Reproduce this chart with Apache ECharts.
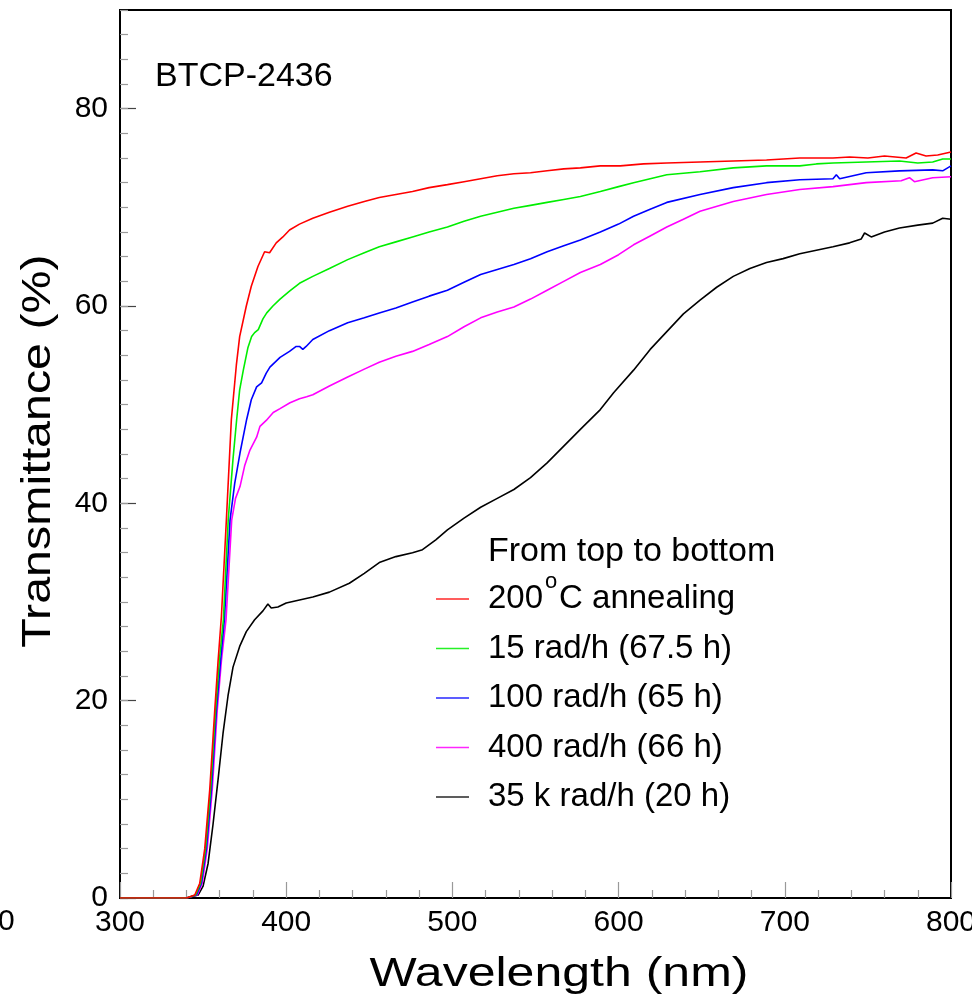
<!DOCTYPE html>
<html>
<head>
<meta charset="utf-8">
<script src="https://cdn.jsdelivr.net/npm/echarts@6/dist/echarts.min.js"></script>
<style>
html,body{margin:0;padding:0;background:#fff;}
#chart{width:972px;height:1008px;}
</style>
</head>
<body>
<div id="chart"></div>
<script>
// ---- data (wavelength nm, transmittance %) ----
var seriesNames = ['200°C annealing', '15 rad/h (67.5 h)', '100 rad/h (65 h)', '400 rad/h (66 h)', '35 k rad/h (20 h)'];
var seriesColors = ['#ff0000', '#00ee00', '#0000ff', '#ff00ff', '#000000'];
var xTickLabels = ['300', '400', '500', '600', '700', '800'];
var yTickLabels = ['0', '20', '40', '60', '80'];

var wlRed = [300,320,340,345,348,351,354,357,359,361,364,367,370,372,376,379,383,387,390,394,398,402,408,416,426,437,447,456,466,476,486,497,507,517,527,537,547,557,567,577,589,601,615,629,649,669,689,709,729,739,750,760,773,779,785,792,800];
var tRed  = [0,0,0,0.3,1.5,5,11,19,24,28.5,38.3,48.5,54,56.9,60,62,64,65.5,65.4,66.4,67,67.7,68.3,68.9,69.5,70.1,70.6,71.0,71.3,71.6,72.0,72.3,72.6,72.9,73.2,73.4,73.5,73.7,73.9,74.0,74.2,74.2,74.4,74.5,74.6,74.7,74.8,75.0,75.0,75.1,75.0,75.2,75.0,75.5,75.2,75.3,75.6];

var wlGreen = [300,320,340,345.5,348.5,351.5,354.5,357.5,360,362.2,365.1,368,370.2,372,374.2,377,379.2,381,383.2,386,388.3,392,396.3,402,408,416,426,437,447,456,466,476,486,497,507,517,527,537,547,557,567,577,589,600,609,619,629,649,669,689,709,719,729,749,769,780,789,795,800];
var tGreen  = [0,0,0,0.3,1.5,5,11,19,24.5,28.2,38.3,44.5,48.5,51.5,53.5,55.8,56.9,57.3,57.6,58.7,59.3,60,60.7,61.5,62.3,63.0,63.8,64.7,65.4,66.0,66.5,67.0,67.5,68.0,68.6,69.1,69.5,69.9,70.2,70.5,70.8,71.1,71.6,72.1,72.5,72.9,73.3,73.6,74.0,74.2,74.2,74.4,74.5,74.6,74.7,74.5,74.6,74.9,74.9];

var wlBlue = [300,320,340,346,349,352,355,358,360.5,362.8,366.2,369,372.2,376.2,379,382.2,385.2,388,390.2,396.3,402,406,408,410,412,416,426,437,447,456,466,476,486,497,507,517,527,537,547,557,567,577,589,600,609,619,629,649,669,689,709,729,731,733,749,769,789,795,800];
var tBlue  = [0,0,0,0.3,1.5,5,11,19,24,28.2,38.3,42,45.1,48.5,50.5,51.8,52.2,53.2,53.8,54.8,55.4,55.9,55.9,55.6,55.9,56.6,57.5,58.3,58.8,59.3,59.8,60.4,61.0,61.6,62.4,63.2,63.7,64.2,64.8,65.5,66.1,66.7,67.5,68.3,69.1,69.8,70.5,71.3,72.0,72.5,72.8,72.9,73.3,72.9,73.5,73.7,73.8,73.7,74.2];

var wlMagenta = [300,320,340,346.5,349.5,352.5,355.5,358.5,361,363.8,367.2,369.5,372.2,375,378.2,382.2,384.2,388,392.2,396.3,402.3,408,412.3,416,426,437,447,456,466,476,486,497,507,517,527,537,547,557,567,577,589,600,609,619,629,639,649,669,689,709,729,749,770,775,778,789,800];
var tMagenta  = [0,0,0,0.3,1.5,5,11,19,24,28.2,38.3,40.5,41.7,43.8,45.4,46.7,47.8,48.4,49.2,49.6,50.2,50.6,50.8,51.0,51.9,52.8,53.6,54.3,54.9,55.4,56.1,56.9,57.9,58.8,59.4,59.9,60.7,61.6,62.5,63.4,64.2,65.2,66.2,67.1,68.0,68.8,69.6,70.6,71.3,71.8,72.1,72.5,72.7,73.0,72.6,73.0,73.1];

var wlBlack = [300,320,340,347,350,353,356,359,362,365,368,372,376,381,386,389,391,395,400,408,416,426,438,447,456,466,476,482,490,497,507,517,527,537,547,557,567,577,589,597,609,619,629,639,649,659,669,679,689,699,709,729,739,746,748,752,760,769,780,789,795,800];
var tBlack  = [0,0,0,0.3,1.2,3.5,7.5,12,16.7,20.5,23.4,25.5,27,28.2,29.1,29.8,29.4,29.5,29.9,30.2,30.5,31.0,31.9,32.9,34.0,34.6,35.0,35.3,36.3,37.3,38.5,39.6,40.5,41.4,42.6,44.1,45.8,47.5,49.5,51.2,53.5,55.6,57.4,59.2,60.6,61.9,63.0,63.8,64.4,64.8,65.3,66.0,66.4,66.8,67.4,67.0,67.5,67.9,68.2,68.4,68.9,68.8];

var wavelengths = [wlRed, wlGreen, wlBlue, wlMagenta, wlBlack];
var transmittances = [tRed, tGreen, tBlue, tMagenta, tBlack];

function pairs(xs, ys) {
  var out = [];
  for (var i = 0; i < xs.length; i++) out.push([xs[i], ys[i]]);
  return out;
}

var FONT = '"Liberation Sans", Arial, Helvetica, sans-serif';

var series = seriesNames.map(function (name, i) {
  return {
    name: name,
    type: 'line',
    xAxisIndex: 0,
    yAxisIndex: 0,
    data: pairs(wavelengths[i], transmittances[i]),
    symbol: 'none',
    smooth: false,
    color: seriesColors[i],
    lineStyle: { color: seriesColors[i], width: 1.6 },
    itemStyle: { color: seriesColors[i] },
    z: 5 - i + 2
  };
});

var chart = echarts.init(document.getElementById('chart'), null, { renderer: 'canvas' });
chart.setOption({
  animation: false,
  backgroundColor: '#ffffff',
  color: seriesColors,
  grid: {
    left: 120, right: 21, top: 10, bottom: 110,
    outerBoundsMode: 'none',
    containLabel: false,
    show: true, borderColor: '#000', borderWidth: 2, backgroundColor: 'transparent'
  },
  xAxis: [{
    type: 'value', min: 300, max: 800, interval: 100,
    axisLine: { show: true, lineStyle: { color: '#000', width: 2 } },
    axisTick: { show: true, inside: true, length: 16, lineStyle: { color: '#999', width: 1.2 } },
    minorTick: { show: true, splitNumber: 5, length: 8, lineStyle: { color: '#999', width: 1.2 } },
    splitLine: { show: false },
    axisLabel: {
      margin: 10, color: '#000', fontSize: 30, fontFamily: FONT, hideOverlap: false,
      formatter: function (v) { var s = String(v); return xTickLabels.indexOf(s) >= 0 ? s : ''; }
    }
  }],
  yAxis: [{
    type: 'value', min: 0, max: 90, interval: 20,
    axisLine: { show: true, lineStyle: { color: '#000', width: 2 } },
    axisTick: { show: true, inside: true, length: 16, lineStyle: { color: '#444', width: 1.2 } },
    splitLine: { show: false },
    axisLabel: {
      margin: 12, color: '#000', fontSize: 30, fontFamily: FONT, showMaxLabel: false,
      formatter: function (v) { var s = String(v); return yTickLabels.indexOf(s) >= 0 ? s : ''; }
    }
  }, {
    type: 'value', min: 0, max: 90, interval: 2.5, position: 'left',
    axisLine: { show: false },
    axisTick: { show: true, inside: true, length: 8, lineStyle: { color: '#999', width: 1.2 } },
    axisLabel: { show: false },
    splitLine: { show: false }
  }],
  legend: {
    show: true,
    orient: 'vertical',
    left: 436,
    top: 582.5,
    itemWidth: 33,
    itemHeight: 1.4,
    itemGap: 16.5,
    padding: 0,
    icon: 'rect',
    itemStyle: { borderWidth: 0 },
    data: seriesNames.map(function (n, i) {
      return { name: n, icon: 'rect', itemStyle: { color: seriesColors[i], opacity: 0.85 } };
    }),
    formatter: function (name) {
      return name === seriesNames[0] ? '{t|200}{g| }{t|C annealing}' : '{t|' + name + '}';
    },
    textStyle: {
      color: '#000', fontSize: 33, fontFamily: FONT, padding: [0, 0, 0, 14],
      rich: {
        t: { fontSize: 33, fontFamily: FONT, color: '#000', lineHeight: 34 },
        g: { fontSize: 33, fontFamily: FONT, color: '#000', lineHeight: 34, width: 16 }
      }
    }
  },
  graphic: [
    { type: 'text', x: 155, y: 77, style: { text: 'BTCP-2436', font: '34px ' + FONT, fill: '#000', textAlign: 'left', textVerticalAlign: 'middle' } },
    { type: 'text', x: 488, y: 552, style: { text: 'From top to bottom', font: '34px ' + FONT, fill: '#000', textAlign: 'left', textVerticalAlign: 'middle' } },
    { type: 'text', x: 551, y: 582, z: 100, style: { text: 'o', font: '22px ' + FONT, fill: '#000', textAlign: 'center', textVerticalAlign: 'middle' } },
    { type: 'text', x: 559, y: 975, scaleX: 1.22, style: { text: 'Wavelength (nm)', font: '41px ' + FONT, fill: '#000', textAlign: 'center', textVerticalAlign: 'middle' } },
    { type: 'text', x: 39, y: 451, rotation: Math.PI / 2, scaleX: 1.18, style: { text: 'Transmittance (%)', font: '41px ' + FONT, fill: '#000', textAlign: 'center', textVerticalAlign: 'middle' } },
    { type: 'text', x: -2, y: 922, style: { text: '0', font: '30px ' + FONT, fill: '#000', textAlign: 'left', textVerticalAlign: 'middle' } }
  ],
  series: series
});
</script>
</body>
</html>
